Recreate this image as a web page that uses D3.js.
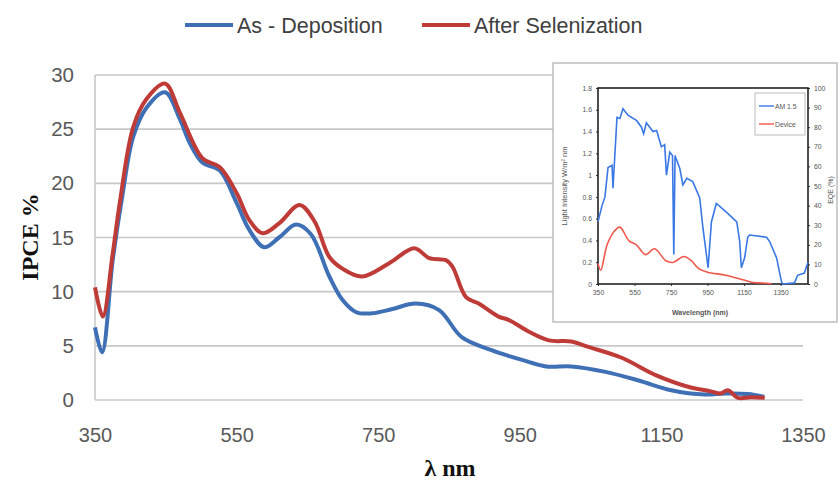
<!DOCTYPE html>
<html><head><meta charset="utf-8">
<script src="https://cdn.jsdelivr.net/npm/d3@7"></script>
<style>body{margin:0;background:#fff}svg{display:block}</style>
</head><body>
<svg id="c" width="839" height="483"></svg>
<script>
// ---- main chart data ----
const seriesNames = ["As - Deposition", "After Selenization"];
const asDepX = [350,360,375,389,404,423,449,470,484,502,526,550,568,589,610,634,655,681,700,719,741,770,803,836,868,910,953,987,1023,1071,1118,1164,1211,1240,1272,1295];
const asDepY = [6.7,4.4,12.9,19,24.3,27,28.4,25.9,23.7,21.9,21.2,18.2,15.7,14.1,15,16.2,15.3,11.4,9.2,8.1,8.0,8.4,8.9,8.3,5.8,4.6,3.7,3.1,3.1,2.6,1.8,0.9,0.5,0.6,0.55,0.3];
const selX = [350,361,375,385,404,423,449,470,502,526,550,568,587,610,639,660,681,700,727,765,801,822,846,855,874,892,920,934,963,991,1023,1047,1094,1142,1189,1220,1233,1244,1258,1277,1296];
const selY = [10.4,7.7,13.5,18.2,25.2,27.8,29.2,26.5,22.3,21.5,19.1,16.6,15.4,16.3,18.0,16.5,13.2,12.1,11.4,12.6,14.0,13.1,12.9,12.3,9.5,8.9,7.7,7.4,6.3,5.5,5.4,4.9,3.9,2.3,1.2,0.8,0.6,0.9,0.2,0.25,0.2];
const xTicks = [350,550,750,950,1150,1350];
const yTicks = [0,5,10,15,20,25,30];

// ---- inset data ----
const insetNames = ["AM 1.5", "Device"];
const amX = [350,372,388,405,427,432,454,470,487,514,562,588,600,615,651,671,697,715,725,743,758,765,772,776,798,815,836,869,907,925,953,971,998,1053,1110,1126,1135,1153,1170,1180,1273,1290,1328,1355,1362,1426,1443,1480,1500];
const amY = [0.57,0.72,0.80,1.07,1.09,0.88,1.53,1.52,1.61,1.55,1.50,1.44,1.38,1.48,1.40,1.41,1.26,1.28,1.00,1.21,1.18,0.27,1.18,1.16,1.06,0.91,0.97,0.94,0.79,0.51,0.15,0.57,0.74,0.66,0.57,0.39,0.15,0.24,0.43,0.45,0.43,0.39,0.24,0.02,0,0.01,0.08,0.1,0.2];
const devX = [350,365,400,440,470,520,560,610,660,720,760,820,860,900,950,1050,1150,1200,1250,1300];
const devY = [10.5,7,20,27,29,22,20,15,18,12,11,14,12,8,6,4.5,2,0.8,0.5,0.1];
const insetXTicks = [350,550,750,950,1150,1350];
const insetLeftTicks = [0,0.2,0.4,0.6,0.8,1,1.2,1.4,1.6,1.8];
const insetRightTicks = [0,10,20,30,40,50,60,70,80,90,100];

const svg = d3.select("#c");
const blue = "#3f70b6", red = "#bf3b38";

const x = d3.scaleLinear().domain([350,1350]).range([95,803]);
const y = d3.scaleLinear().domain([0,30]).range([400,75]);

// gridlines
svg.append("g").selectAll("line").data(yTicks).join("line")
  .attr("x1", x(350)).attr("x2", x(1350))
  .attr("y1", d => y(d)).attr("y2", d => y(d))
  .attr("stroke", "#c8c8c8").attr("stroke-width", 1.6);
svg.append("line").attr("x1", x(350)).attr("x2", x(350)).attr("y1", y(0)).attr("y2", y(30))
  .attr("stroke", "#c8c8c8").attr("stroke-width", 1.6);

// axes labels via d3 axes
const font = "'Liberation Sans', Arial, sans-serif";
const gx = svg.append("g").attr("transform", `translate(0,${y(0)})`)
  .call(d3.axisBottom(x).tickValues(xTicks).tickSize(0).tickPadding(28).tickFormat(d3.format("d")));
gx.select(".domain").remove();
gx.selectAll("text").attr("font-family", font).attr("font-size", 20).attr("fill", "#595959");
const gy = svg.append("g").attr("transform", `translate(${x(350)},0)`)
  .call(d3.axisLeft(y).tickValues(yTicks).tickSize(0).tickPadding(21));
gy.select(".domain").remove();
gy.selectAll("text").attr("font-family", font).attr("font-size", 20.5).attr("fill", "#595959");

svg.append("text").attr("x", 450).attr("y", 476).attr("text-anchor", "middle")
  .attr("font-family", "'Liberation Serif', 'Times New Roman', serif").attr("font-weight", "bold")
  .attr("font-size", 24).attr("fill", "#111").text("λ nm");
svg.append("text").attr("transform", "translate(38,237) rotate(-90)").attr("text-anchor", "middle")
  .attr("font-family", "'Liberation Serif', 'Times New Roman', serif").attr("font-weight", "bold")
  .attr("font-size", 24).attr("fill", "#111").text("IPCE %");

// lines
const line = d3.line().x(d => x(d[0])).y(d => y(d[1])).curve(d3.curveCatmullRom.alpha(0.5));
svg.append("path").datum(d3.zip(asDepX, asDepY)).attr("d", line)
  .attr("fill", "none").attr("stroke", blue).attr("stroke-width", 4).attr("stroke-linejoin", "round");
svg.append("path").datum(d3.zip(selX, selY)).attr("d", line)
  .attr("fill", "none").attr("stroke", red).attr("stroke-width", 4).attr("stroke-linejoin", "round");

// legend
const leg = [{n: seriesNames[0], c: blue, x: 185}, {n: seriesNames[1], c: red, x: 422}];
leg.forEach(l => {
  svg.append("line").attr("x1", l.x).attr("x2", l.x + 48).attr("y1", 25).attr("y2", 25)
    .attr("stroke", l.c).attr("stroke-width", 4);
  svg.append("text").attr("x", l.x + 52).attr("y", 32.5).attr("font-family", font)
    .attr("font-size", 21.5).attr("fill", "#404040").text(l.n);
});

// ---- inset ----
const ins = svg.append("g");
ins.append("rect").attr("x", 553).attr("y", 63).attr("width", 284).attr("height", 259)
  .attr("fill", "#fff").attr("stroke", "#bdbdbd").attr("stroke-width", 1.5);
const ix = d3.scaleLinear().domain([350,1500]).range([598,808]);
const iyL = d3.scaleLinear().domain([0,1.8]).range([284,88]);
const iyR = d3.scaleLinear().domain([0,100]).range([284,88]);
const ifont = "'Liberation Sans', Arial, sans-serif";

const gix = ins.append("g").attr("transform", "translate(0,284)")
  .call(d3.axisBottom(ix).tickValues(insetXTicks).tickSize(2).tickPadding(4).tickFormat(d3.format("d")));
const giyL = ins.append("g").attr("transform", "translate(598,0)")
  .call(d3.axisLeft(iyL).tickValues(insetLeftTicks).tickSize(2).tickPadding(4).tickFormat(d => d3.format("")(+d.toFixed(1))));
const giyR = ins.append("g").attr("transform", "translate(808,0)")
  .call(d3.axisRight(iyR).tickValues(insetRightTicks).tickSize(2).tickPadding(4));
[gix, giyL, giyR].forEach(g => {
  g.select(".domain").remove();
  g.selectAll("line").attr("stroke", "#333");
  g.selectAll("text").attr("font-family", ifont).attr("font-size", 6.8).attr("fill", "#555");
});
ins.append("rect").attr("x", 598).attr("y", 88).attr("width", 210).attr("height", 196)
  .attr("fill", "none").attr("stroke", "#222").attr("stroke-width", 1.6);

const lineAM = d3.line().x(d => ix(d[0])).y(d => iyL(d[1]));
const lineDev = d3.line().x(d => ix(d[0])).y(d => iyR(d[1])).curve(d3.curveCatmullRom);
ins.append("path").datum(d3.zip(amX, amY)).attr("d", lineAM)
  .attr("fill", "none").attr("stroke", "#3a78e6").attr("stroke-width", 1.6);
ins.append("path").datum(d3.zip(devX, devY)).attr("d", lineDev)
  .attr("fill", "none").attr("stroke", "#f0584c").attr("stroke-width", 1.6);

// inset legend
ins.append("rect").attr("x", 755).attr("y", 93).attr("width", 50).attr("height", 42)
  .attr("fill", "#fff").attr("stroke", "#aaa").attr("stroke-width", 0.8);
[{n: insetNames[0], c: "#3a78e6", y: 106}, {n: insetNames[1], c: "#f0584c", y: 124}].forEach(l => {
  ins.append("line").attr("x1", 759).attr("x2", 774).attr("y1", l.y).attr("y2", l.y)
    .attr("stroke", l.c).attr("stroke-width", 1.4);
  ins.append("text").attr("x", 775).attr("y", l.y + 2.5).attr("font-family", ifont)
    .attr("font-size", 6.8).attr("fill", "#555").text(l.n);
});

ins.append("text").attr("x", 700).attr("y", 315).attr("text-anchor", "middle")
  .attr("font-family", ifont).attr("font-size", 7).attr("font-weight", "bold").attr("fill", "#555")
  .text("Wavelength (nm)");
ins.append("text").attr("transform", "translate(567,186) rotate(-90)").attr("text-anchor", "middle")
  .attr("font-family", ifont).attr("font-size", 7.5).attr("fill", "#555")
  .text("Light Intensity W/m² nm");
ins.append("text").attr("transform", "translate(833,190) rotate(-90)").attr("text-anchor", "middle")
  .attr("font-family", ifont).attr("font-size", 7).attr("fill", "#555")
  .text("EQE (%)");
</script>
</body></html>
